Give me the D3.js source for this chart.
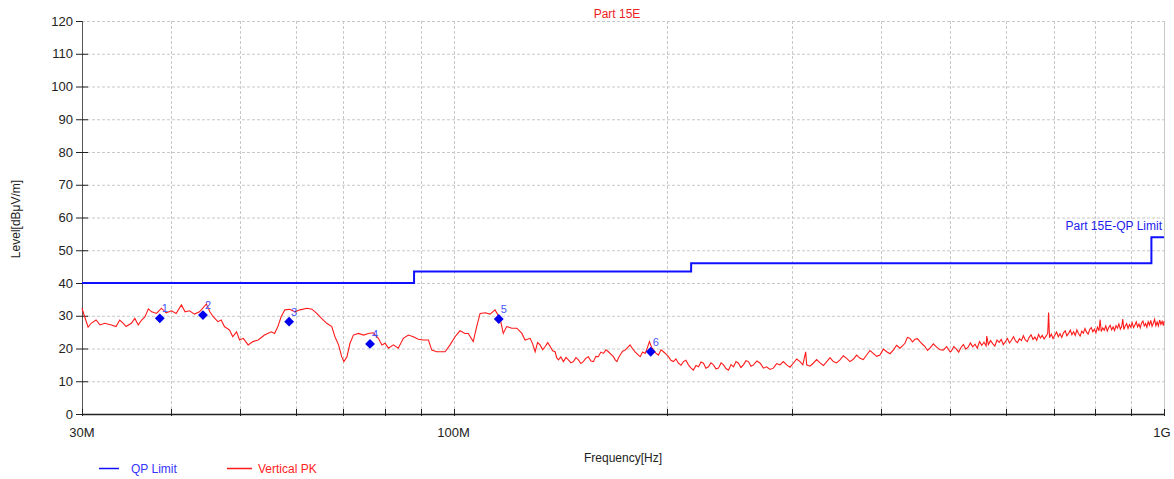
<!DOCTYPE html>
<html><head><meta charset="utf-8">
<script src="https://cdn.jsdelivr.net/npm/d3@7/dist/d3.min.js"></script>
<style>body{margin:0;background:#fff}svg{display:block;font-family:"Liberation Sans",Arial,sans-serif}</style>
</head><body><svg id="c" width="1174" height="479"></svg>
<script>
const yTicks=[0,10,20,30,40,50,60,70,80,90,100,110,120];
const xGrid=[40,50,60,70,80,90,200,300,400,500,600,700,800,900];
const xLabels=[{f:30,t:"30M"},{f:100,t:"100M"},{f:1000,t:"1G"}];
const limitFreq=[30,88,88,216,216,960,960,1000];
const limitLevel=[40,40,43.5,43.5,46,46,54,54];
const markerFreq=[38.6,44.4,58.7,76.3,115.8,189.5];
const markerLevel=[29.2,30.2,28.2,21.4,29.0,19.0];
const markerLabel=["1","2","3","4","5","6"];
const pkFreq=[30.0,30.26,30.6,30.9,31.4,31.8,32.3,33.0,33.5,33.9,34.3,34.6,35.2,35.6,36.0,36.4,36.8,37.2,37.6,38.2,38.8,39.4,40.1,40.7,41.4,41.9,42.5,43.2,43.9,44.9,45.4,45.9,46.6,47.1,47.6,48.4,48.9,49.5,50.0,50.6,51.4,52.2,53.1,54.2,55.4,56.0,56.6,57.2,57.9,58.8,59.8,60.8,62.2,63.2,64.2,65.2,66.3,67.4,68.1,68.9,69.6,70.1,70.8,71.5,72.3,73.5,74.7,75.9,77.1,78.4,79.3,80.1,81.0,82.3,83.6,85.0,86.4,87.8,89.2,90.7,92.2,93.2,94.7,96.3,97.3,98.9,100.5,102.1,103.8,104.9,106.6,107.8,109.0,110.8,112.6,114.4,116.3,117.5,118.8,120.8,122.8,124.8,126.1,
128.2,129.2,130.3,131.3,132.4,133.5,134.6,135.7,136.8,137.9,139.0,139.7,140.5,141.6,142.8,144.0,145.1,146.3,147.5,148.7,149.9,151.1,152.3,153.5,154.8,156.1,157.4,158.6,159.9,161.2,162.6,163.9,165.2,166.5,167.9,168.8,169.8,170.7,171.6,173.0,174.4,175.8,177.2,178.6,180.1,181.6,183.1,184.6,186.1,187.4,188.7,190.0,191.2,192.7,194.3,195.9,197.5,199.1,200.7,202.3,204.0,205.6,207.3,209.0,210.7,212.4,214.1,215.8,217.6,219.4,221.2,223.0,224.8,226.6,228.5,230.3,232.2,234.1,236.0,238.0,239.9,241.8,243.8,245.8,247.8,249.8,251.8,253.8,255.9,258.0,260.1,
262.2,264.4,267.3,270.2,273.0,275.9,278.9,281.9,285.0,288.1,291.2,294.4,297.6,300.8,304.1,307.4,310.2,313.1,314.1,317.5,320.9,324.4,328.0,331.6,335.2,338.8,342.4,346.1,349.9,353.7,357.6,361.4,365.3,369.3,373.4,377.4,381.5,385.6,389.8,394.0,398.3,402.7,407.1,411.5,415.9,420.4,425.0,428.4,431.9,435.4,439.0,442.6,446.2,449.8,453.5,457.2,460.9,464.6,468.4,473.5,478.7,483.9,489.1,494.4,499.8];
const pkLevel=[32.3,29.7,26.5,27.7,28.7,27.2,27.7,27.2,26.7,28.7,27.7,26.7,27.7,29.2,27.2,28.7,29.7,32.1,31.2,30.7,32.3,30.9,31.5,30.7,33.3,31.2,31.5,30.5,31.2,33.6,31.2,29.7,28.2,28.7,26.7,25.6,23.6,25.1,22.6,23.1,21.1,22.1,22.6,24.1,25.1,24.6,26.7,29.7,31.8,32.0,31.2,31.8,32.3,32.0,30.7,29.2,27.7,26.7,23.6,21.1,17.5,16.0,17.5,21.6,24.1,24.6,24.1,24.6,24.8,23.1,21.1,21.6,20.1,21.1,20.1,23.1,24.1,23.6,22.8,22.6,22.6,19.5,19.0,19.0,19.0,21.1,23.6,25.4,24.6,24.6,22.1,26.7,30.7,30.9,30.5,31.8,29.2,24.6,26.7,26.2,26.2,24.6,22.6,
23.1,21.5,19.0,21.8,21.1,19.6,20.6,21.8,20.6,19.3,19.0,17.2,16.5,17.4,16.0,17.3,16.5,15.6,16.0,17.2,16.5,15.4,16.0,17.0,17.5,16.2,16.0,17.6,17.5,18.9,18.5,19.6,19.0,18.3,17.5,16.6,16.0,17.2,18.0,19.2,19.5,20.3,21.1,20.0,19.0,18.2,17.5,18.9,18.5,20.2,22.1,20.4,19.5,18.6,18.0,19.6,19.0,18.3,17.5,16.4,16.0,16.8,15.5,14.9,16.0,16.4,15.0,14.1,13.4,14.8,14.4,15.9,15.5,14.0,14.4,15.6,15.0,13.8,14.0,15.6,15.0,13.9,13.4,15.1,14.4,16.0,15.5,14.2,15.0,16.3,16.0,
14.6,15.0,16.2,15.5,14.0,14.4,13.6,14.0,15.4,15.0,16.0,15.0,14.3,15.5,16.8,16.0,15.0,19.0,15.0,14.6,15.5,16.6,15.6,14.8,16.0,17.2,16.0,15.6,16.5,17.8,17.0,16.0,16.7,18.0,17.0,16.6,18.0,19.4,18.5,17.6,18.0,19.8,19.0,18.4,19.5,21.0,20.1,20.8,21.6,23.4,23.1,22.0,22.8,23.0,22.1,21.3,20.6,19.4,20.1,21.4,20.4,19.6,19.5,20.6,19.0];
// 500 MHz - 1 GHz part of the trace: [MHz, dBuV/m]
const pkTail=[[502,19.2],[506,20.6],[510,19.9],[514,18.9],[518,20.3],[522,21.2],[526,19.8],[530,20.4],[534,21.7],[538,20.5],[542,21.3],[546,20.1],[550,22.1],[554,21.0],[558,21.9],[562,20.8],[563,23.8],[566,21.2],[570,22.4],[574,21.5],[578,20.7],[582,22.6],[586,21.9],[590,22.8],[594,21.2],[598,22.0],[602,23.1],[606,21.7],[610,22.5],[614,23.6],[618,22.3],[622,21.8],[626,23.0],[630,22.4],[634,23.9],[638,22.6],[642,22.1],[646,23.4],[650,24.2],[654,22.8],[658,23.5],[662,22.5],[666,24.3],[670,23.2],[674,24.0],[678,22.9],[682,23.7],[686,24.6],[688,31.0],[690,23.3],[694,24.4],[698,23.0],[702,24.1],[706,25.0],[710,23.6],[714,24.5],[718,23.4],[722,24.8],[726,25.4],[730,23.9],[734,24.6],[738,25.6],[742,24.2],[746,25.1],[750,24.0],[754,25.7],[758,24.6],[762,23.8],[766,25.3],[770,24.7],[774,26.1],[778,25.0],[782,24.4],[786,25.8],[790,26.4],[794,25.1],[798,25.9],[802,24.8],[806,26.5],[810,25.4],[813,28.8],[816,25.2],[820,26.3],[824,25.6],[828,26.9],[832,25.3],[836,26.4],[840,27.1],[844,25.7],[848,26.6],[852,25.5],[856,27.0],[860,26.2],[864,27.5],[868,25.9],[872,26.8],[875,29.0],[878,25.8],[882,26.9],[886,27.6],[890,26.1],[894,27.3],[898,26.5],[902,27.9],[906,26.4],[910,27.2],[914,28.1],[918,26.6],[922,27.5],[926,26.3],[930,27.8],[934,28.4],[938,26.9],[942,27.6],[946,26.5],[950,28.2],[954,27.1],[958,28.6],[962,26.8],[966,27.7],[970,28.9],[974,27.0],[978,28.1],[982,26.9],[986,28.7],[990,27.4],[994,28.3],[998,27.0],[1000,28.4]];

const svg=d3.select("#c");
const L=82,R=1164,T=21,B=414;
const x=d3.scaleLog().domain([30,1000]).range([L,R]);
const y=d3.scaleLinear().domain([0,120]).range([B,T]);

// grid
svg.append("g").selectAll("line").data(yTicks.filter(d=>d>0)).join("line")
 .attr("x1",L).attr("x2",R).attr("y1",d=>y(d)+.5).attr("y2",d=>y(d)+.5)
 .attr("stroke","#c8c8c8").attr("stroke-dasharray","3,2");
svg.append("g").selectAll("line").data([...xGrid,100]).join("line")
 .attr("x1",d=>Math.round(x(d))+.5).attr("x2",d=>Math.round(x(d))+.5).attr("y1",T).attr("y2",B)
 .attr("stroke","#c8c8c8").attr("stroke-dasharray","3,2");
svg.append("line").attr("x1",R+.5).attr("x2",R+.5).attr("y1",T).attr("y2",B).attr("stroke","#c8c8c8");

// y axis
svg.append("line").attr("x1",L+.5).attr("x2",L+.5).attr("y1",T).attr("y2",B).attr("stroke","#555");
svg.append("g").selectAll("line").data(yTicks).join("line")
 .attr("x1",76).attr("x2",d=>d===120||d===0?L:88).attr("y1",d=>y(d)+.5).attr("y2",d=>y(d)+.5).attr("stroke","#222");
svg.append("g").selectAll("text").data(yTicks).join("text")
 .attr("x",73).attr("y",d=>y(d)+4.5).attr("text-anchor","end").attr("font-size",13).attr("fill","#222").text(d=>d);

// x axis
svg.append("line").attr("x1",L).attr("x2",R+1).attr("y1",B+.5).attr("y2",B+.5).attr("stroke","#222").attr("stroke-width",1.5);
svg.append("g").selectAll("line").data([30,...xGrid,100,1000]).join("line")
 .attr("x1",d=>Math.round(x(d))+.5).attr("x2",d=>Math.round(x(d))+.5).attr("y1",B-5).attr("y2",B+2).attr("stroke","#222");
svg.append("g").selectAll("text").data(xLabels).join("text")
 .attr("x",d=>x(d.f)).attr("y",437).attr("text-anchor","middle").attr("dx",d=>d.f===1000?-2:0)
 .attr("font-size",13).attr("fill","#222").text(d=>d.t);

// titles
svg.append("text").attr("x",617).attr("y",18).attr("text-anchor","middle").attr("font-size",12).attr("fill","#ee2222").text("Part 15E");
svg.append("text").attr("x",623).attr("y",462).attr("text-anchor","middle").attr("font-size",12).attr("fill","#222").text("Frequency[Hz]");
svg.append("text").attr("transform","translate(20,219) rotate(-90)").attr("text-anchor","middle").attr("font-size",12).attr("fill","#222").text("Level[dBμV/m]");

// trace
const pk=pkFreq.map((f,i)=>[f,pkLevel[i]]).concat(pkTail);
svg.append("path").datum(pk).attr("fill","none").attr("stroke","#ff1a1a").attr("stroke-width",1.1)
 .attr("d",d3.line().x(d=>x(d[0])).y(d=>y(d[1])));

// limit
const lim=limitFreq.map((f,i)=>[f,limitLevel[i]]);
svg.append("path").datum(lim).attr("fill","none").attr("stroke","#1010ff").attr("stroke-width",2)
 .attr("d",d3.line().x(d=>x(d[0])).y(d=>y(d[1])));
svg.append("text").attr("x",1162).attr("y",230).attr("text-anchor","end").attr("font-size",12).attr("fill","#2222ee").text("Part 15E-QP Limit");

// markers
const mk=markerFreq.map((f,i)=>({f,v:markerLevel[i],t:markerLabel[i]}));
svg.append("g").selectAll("path").data(mk).join("path")
 .attr("transform",d=>`translate(${x(d.f)},${y(d.v)})`)
 .attr("d",d3.symbol(d3.symbolDiamond2,62)).attr("fill","#0000ee");
svg.append("g").selectAll("text").data(mk).join("text")
 .attr("x",d=>x(d.f)+2).attr("y",d=>y(d.v)-6).attr("font-size",11).attr("fill","#4455ff").text(d=>d.t);

// legend
svg.append("line").attr("x1",99).attr("x2",119).attr("y1",468.5).attr("y2",468.5).attr("stroke","#1010ff").attr("stroke-width",1.5);
svg.append("text").attr("x",131).attr("y",473).attr("font-size",12).attr("fill","#3333ff").text("QP Limit");
svg.append("line").attr("x1",227).attr("x2",252).attr("y1",468.5).attr("y2",468.5).attr("stroke","#ff1a1a").attr("stroke-width",1.5);
svg.append("text").attr("x",258).attr("y",473).attr("font-size",12).attr("fill","#ff2222").text("Vertical PK");
</script></body></html>
